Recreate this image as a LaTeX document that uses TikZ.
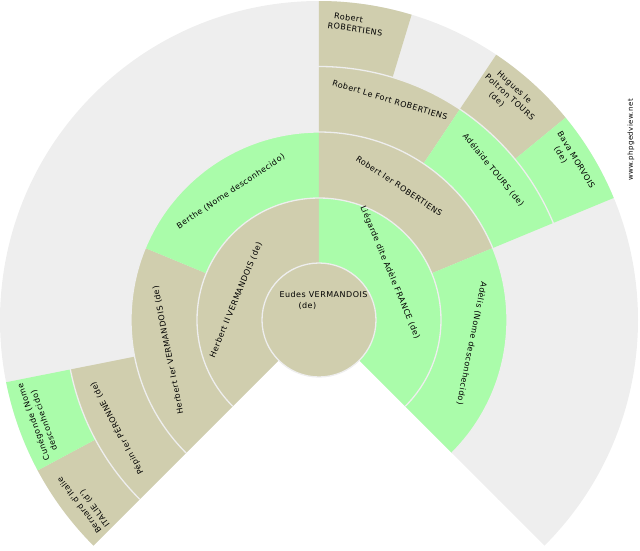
\documentclass[tikz,border=0pt]{standalone}
\usepackage{fontspec}
\newfontfamily\fanfont[LetterSpace=6]{DejaVu Sans}
\definecolor{mancol}{RGB}{208,206,174}
\definecolor{womancol}{RGB}{170,252,170}
\definecolor{fangrey}{RGB}{238,238,238}
\tikzset{
  person/.style={font=\fanfont\fontsize{8}{10.5}\selectfont, inner sep=0pt, align=left},
  ringsep/.style={draw=fangrey, line width=1.3pt}
}
\begin{document}
\begin{tikzpicture}[x=1pt,y=1pt]
\useasboundingbox (-319,-230) rectangle (321,320);
%\draw[step=50,gray,very thin] (-300,-200) grid (300,300);
\fill[fangrey] (0,0) -- (225:319) arc[start angle=225, end angle=-45, radius=319] -- cycle;

% ring 1
\fill[mancol] (225:57) arc[start angle=225, end angle=90, radius=57] -- (90:122) arc[start angle=90, end angle=225, radius=122] -- cycle;
\fill[womancol] (90:57) arc[start angle=90, end angle=-45, radius=57] -- (-45:122) arc[start angle=-45, end angle=90, radius=122] -- cycle;
% ring 2
\fill[mancol] (225:122) arc[start angle=225, end angle=157.5, radius=122] -- (157.5:188) arc[start angle=157.5, end angle=225, radius=188] -- cycle;
\fill[womancol] (157.5:122) arc[start angle=157.5, end angle=90, radius=122] -- (90:188) arc[start angle=90, end angle=157.5, radius=188] -- cycle;
\fill[mancol] (90:122) arc[start angle=90, end angle=22.5, radius=122] -- (22.5:188) arc[start angle=22.5, end angle=90, radius=188] -- cycle;
\fill[womancol] (22.5:122) arc[start angle=22.5, end angle=-45, radius=122] -- (-45:188) arc[start angle=-45, end angle=22.5, radius=188] -- cycle;
% ring 3
\fill[mancol] (225:188) arc[start angle=225, end angle=191.25, radius=188] -- (191.25:253.5) arc[start angle=191.25, end angle=225, radius=253.5] -- cycle;
\fill[mancol] (90:188) arc[start angle=90, end angle=56.25, radius=188] -- (56.25:253.5) arc[start angle=56.25, end angle=90, radius=253.5] -- cycle;
\fill[womancol] (56.25:188) arc[start angle=56.25, end angle=22.5, radius=188] -- (22.5:253.5) arc[start angle=22.5, end angle=56.25, radius=253.5] -- cycle;
% ring 4
\fill[mancol] (225:253.5) arc[start angle=225, end angle=208.125, radius=253.5] -- (208.125:319) arc[start angle=208.125, end angle=225, radius=319] -- cycle;
\fill[womancol] (208.125:253.5) arc[start angle=208.125, end angle=191.25, radius=253.5] -- (191.25:319) arc[start angle=191.25, end angle=208.125, radius=319] -- cycle;
\fill[mancol] (90:253.5) arc[start angle=90, end angle=73.125, radius=253.5] -- (73.125:319) arc[start angle=73.125, end angle=90, radius=319] -- cycle;
\fill[mancol] (56.25:253.5) arc[start angle=56.25, end angle=39.375, radius=253.5] -- (39.375:319) arc[start angle=39.375, end angle=56.25, radius=319] -- cycle;
\fill[womancol] (39.375:253.5) arc[start angle=39.375, end angle=22.5, radius=253.5] -- (22.5:319) arc[start angle=22.5, end angle=39.375, radius=319] -- cycle;

% ring borders
\draw[ringsep] (225:122) arc[start angle=225, end angle=-45, radius=122];
\draw[ringsep] (225:188) arc[start angle=225, end angle=-45, radius=188];
\draw[ringsep] (225:253.5) arc[start angle=225, end angle=-45, radius=253.5];
\draw[ringsep, fill=mancol] (0,0) circle[radius=57];

%------------------------------------------------

\node[person] (eudes) at (4.5,19.5) {Eudes VERMANDOIS\\\hspace*{19pt}(de)};

\node[person, rotate=67.5] (herbertII) at (166.5:85.4) {Herbert II VERMANDOIS (de)};
\node[person, rotate=-67.5] (liegarde) at (33.8:85.4) {Liégarde dite Adèle FRANCE (de)};

\node[person, rotate=101.25] (herbertI) at (191.3:153.7) {Herbert Ier VERMANDOIS (de)};
\node[person, rotate=33.75] (berthe) at (124.5:155.7) {Berthe (Nome desconhecido)};
\node[person, rotate=-33.75] (robertI) at (59.1:156.3) {Robert Ier ROBERTIENS};
\node[person, rotate=-101.25] (adelis) at (-8.7:154.5) {Adèlis (Nome desconhecido)};

\node[person, rotate=118.125] (pepin) at (208.2:229.5) {Pépin Ier PÉRONNE (de)};
\node[person, rotate=-16.875] (robertfort) at (72.1:231.2) {Robert Le Fort ROBERTIENS};
\node[person, rotate=-50.625] (adelaide) at (40.7:230) {Adélaïde TOURS (de)};

\node[person, rotate=126.56] (bernard) at (217.7:297.4) {Bernard d'Italie\\ITALIE (d')};
\node[person, rotate=109.69] (cunegonde) at (199.7:297.9) {Cunégonde (Nome\\\hspace*{6.5pt}desconhecido)};
\node[person, rotate=-8.44] (robert) at (82.9:298.3) {\hspace*{5pt}Robert\\ROBERTIENS};
\node[person, rotate=-42.19] (hugues) at (49.4:293.2) {\hspace*{6.5pt}Hugues le\\Poltron TOURS\\\hspace*{14.5pt}(de)};
\node[person, rotate=-59.06] (bava) at (31.9:297.3) {Bava MORVOIS\\\hspace*{11pt}(de)};

\node[font=\fanfont\fontsize{7}{8}\selectfont, inner sep=0pt, rotate=90] (site) at (312,180) {www.phpgedview.net};
\end{tikzpicture}
\end{document}
